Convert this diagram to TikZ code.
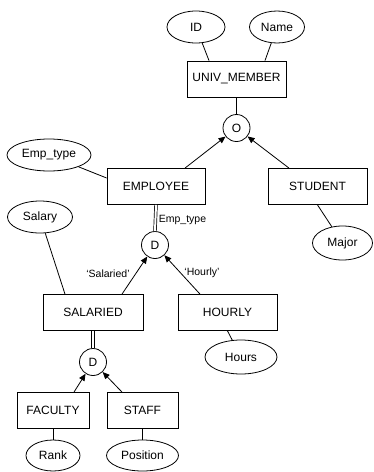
\documentclass[tikz,border=0pt]{standalone}
\usepackage{fontspec}
\setmainfont{Liberation Sans}
\usetikzlibrary{shapes.geometric,arrows.meta}
\begin{document}
\begin{tikzpicture}[x=1pt,y=-1pt,
  line width=0.8pt,
  entity/.style={draw,rectangle,minimum height=36pt,inner sep=0pt,font=\fontsize{12}{14}\selectfont},
  attr/.style={draw,ellipse,minimum height=32pt,inner sep=0pt,font=\fontsize{12}{14}\selectfont},
  spec/.style={draw,circle,minimum size=27pt,inner sep=0pt,font=\fontsize{12}{14}\selectfont},
  isa/.style={-{Triangle[length=7pt,width=6pt]}},
  total/.style={double,double distance=2pt,line width=0.7pt},
  lbl/.style={font=\fontsize{10.5}{12}\selectfont,inner sep=0pt}]
\useasboundingbox (0,0) rectangle (373,472);

% entities
\node[entity,minimum width=99pt] (univ) at (236.5,79) {UNIV\_MEMBER};
\node[entity,minimum width=98pt] (emp) at (156,186.5) {EMPLOYEE};
\node[entity,minimum width=99pt] (stu) at (317.5,186.5) {STUDENT};
\node[entity,minimum width=100pt] (sal) at (93,312.5) {SALARIED};
\node[entity,minimum width=99pt] (hour) at (227.5,312.5) {HOURLY};
\node[entity,minimum width=72pt] (fac) at (53,410.5) {FACULTY};
\node[entity,minimum width=71pt] (staff) at (142.5,410.5) {STAFF};

% attributes
\node[attr,minimum width=58pt] (id) at (196,27) {ID};
\node[attr,minimum width=55pt] (name) at (277,27) {Name};
\node[attr,minimum width=84pt] (etype) at (49,155) {Emp\_type};
\node[attr,minimum width=65pt] (salary) at (40,217) {Salary};
\node[attr,minimum width=60pt,minimum height=34pt] (major) at (342.5,243) {Major};
\node[attr,minimum width=72pt,minimum height=34pt] (hours) at (241,357) {Hours};
\node[attr,minimum width=54pt,minimum height=31pt] (rank) at (53,455.5) {Rank};
\node[attr,minimum width=72pt,minimum height=31pt] (pos) at (142.5,455.5) {Position};

% specialization circles
\node[spec] (o) at (236.5,128) {O};
\node[spec] (d1) at (155,245) {D};
\node[spec] (d2) at (93,362) {D};

% attribute links
\draw ([xshift=-27.5pt]univ.north) -- (id);
\draw ([xshift=28.5pt]univ.north) -- (name);
\draw ([yshift=8.5pt]emp.west) -- (etype);
\draw ([xshift=-28pt]sal.north) -- (salary);
\draw (stu.south) -- (major);
\draw (hour.south) -- (hours);
\draw (fac.south) -- (rank);
\draw (staff.south) -- (pos);

% overlapping specialization of UNIV_MEMBER
\draw (univ.south) -- (o.north);
\draw[isa] ([xshift=29pt]emp.north) -- (o);
\draw[isa] ([xshift=-28.5pt]stu.north) -- (o);

% disjoint total specialization of EMPLOYEE
\draw[total] (emp.south) -- (d1.north);
\node[lbl,anchor=west] (l1) at (158.5,220) {Emp\_type};
\draw[isa] ([xshift=29pt]sal.north) -- (d1);
\draw[isa] ([xshift=-27.5pt]hour.north) -- (d1);
\node[lbl] (l2) at (108,274) {‘Salaried’};
\node[lbl] (l3) at (202,273) {‘Hourly’};

% disjoint total specialization of SALARIED
\draw[total] (sal.south) -- (d2.north);
\draw[isa] ([xshift=21pt]fac.north) -- (d2);
\draw[isa] ([xshift=-20.5pt]staff.north) -- (d2);
\end{tikzpicture}
\end{document}
